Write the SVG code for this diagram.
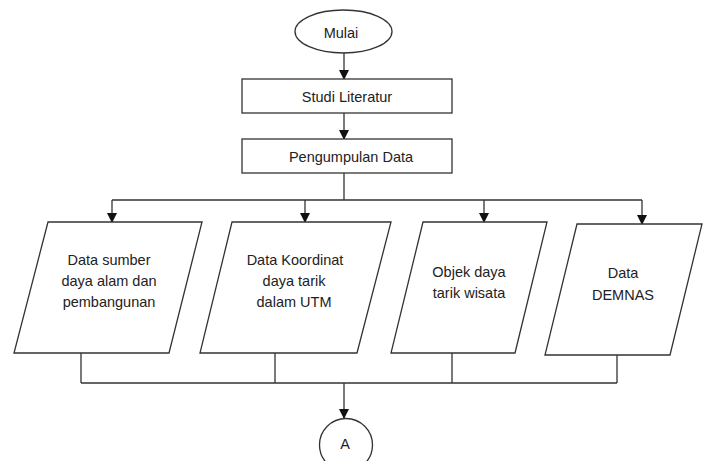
<svg xmlns="http://www.w3.org/2000/svg" width="707" height="461" viewBox="0 0 707 461">
<defs>
<marker id="ah" markerWidth="10" markerHeight="10" refX="9" refY="5" orient="auto" markerUnits="userSpaceOnUse">
<path d="M0,0 L10,5 L0,10 Z" fill="#111"/>
</marker>
<style>
.s{fill:#fff;stroke:#333;stroke-width:1.3}
.c{fill:none;stroke:#333;stroke-width:1.3}
.t{font-family:"Liberation Sans",Arial,sans-serif;font-size:14.5px;fill:#222;text-anchor:middle}
</style>
</defs>
<rect width="707" height="461" fill="#fff"/>
<g id="connectors">
<path class="c" d="M344,53 V79" marker-end="url(#ah)"/>
<path class="c" d="M344,113 V139" marker-end="url(#ah)"/>
<path class="c" d="M344,173 V200 M112,200 H642"/>
<path class="c" d="M112,200 V222" marker-end="url(#ah)"/>
<path class="c" d="M305,200 V222" marker-end="url(#ah)"/>
<path class="c" d="M484,200 V222" marker-end="url(#ah)"/>
<path class="c" d="M642,200 V224" marker-end="url(#ah)"/>
<path class="c" d="M81,353 V383 M275,353 V383 M452,353 V383 M617,355 V383 M81,383 H617"/>
<path class="c" d="M344,383 V418" marker-end="url(#ah)"/>
</g>
<g id="mulai">
<ellipse class="s" cx="343.5" cy="31.5" rx="48.5" ry="21.5"/>
<text class="t" x="341" y="38">Mulai</text>
</g>
<g id="studi">
<rect class="s" x="242" y="79" width="210" height="34"/>
<text class="t" x="347" y="102">Studi Literatur</text>
</g>
<g id="pengumpulan">
<rect class="s" x="242" y="139" width="210" height="34"/>
<text class="t" x="351" y="162">Pengumpulan Data</text>
</g>
<g id="data-sumber">
<path class="s" d="M48,222 H202 L169,353 H14 Z"/>
<text class="t" x="109" y="265">Data sumber</text>
<text class="t" x="109" y="286">daya alam dan</text>
<text class="t" x="109" y="307">pembangunan</text>
</g>
<g id="data-koordinat">
<path class="s" d="M232,222 H391 L357,353 H200 Z"/>
<text class="t" x="295" y="265">Data Koordinat</text>
<text class="t" x="294" y="286">daya tarik</text>
<text class="t" x="294" y="307">dalam UTM</text>
</g>
<g id="objek">
<path class="s" d="M423,222 H547 L515,353 H391 Z"/>
<text class="t" x="469" y="277">Objek daya</text>
<text class="t" x="469" y="298">tarik wisata</text>
</g>
<g id="demnas">
<path class="s" d="M577,224 H702 L670,355 H545 Z"/>
<text class="t" x="623" y="278">Data</text>
<text class="t" x="623" y="300">DEMNAS</text>
</g>
<g id="a">
<circle class="s" cx="346" cy="445" r="26.5"/>
<text class="t" x="345" y="449">A</text>
</g>
</svg>
